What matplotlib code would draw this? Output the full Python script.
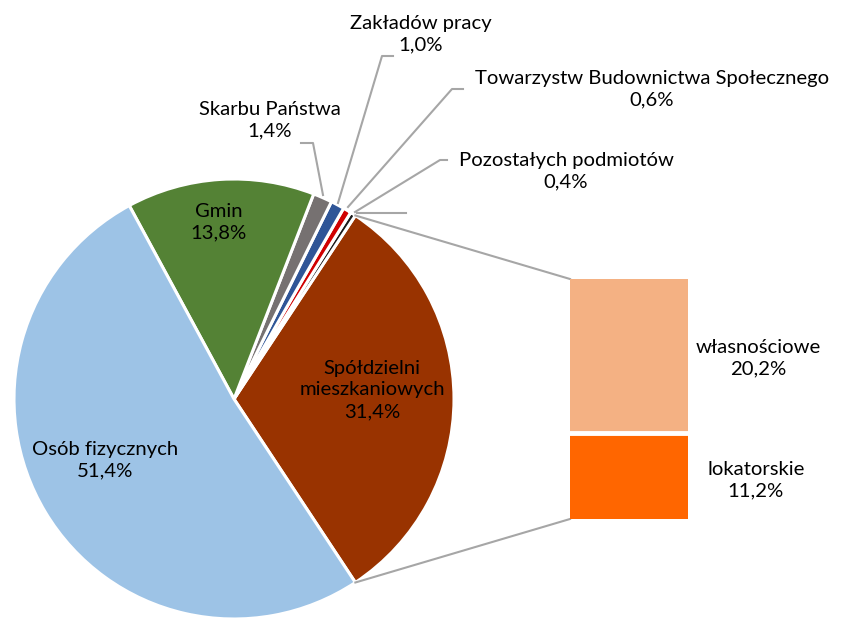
import matplotlib.pyplot as plt
import numpy as np

# ==========================
# DANE
# ==========================

kategorie = ["Spółdzielni\nmieszkaniowych", "Pozostałych podmiotów",
             "Towarzystw Budownictwa Społecznego", "Zakładów pracy",
             "Skarbu Państwa", "Gmin", "Osób fizycznych"]
udzialy = [31.4, 0.4, 0.6, 1.0, 1.4, 13.8, 51.4]
kolory = ["#993300", "#1a1a1a", "#D00000", "#2F5597",
          "#767171", "#548235", "#9DC3E6"]

spoldzielnie = ["lokatorskie", "własnościowe"]
spoldzielnie_udzialy = [11.2, 20.2]
spoldzielnie_kolory = ["#FF6600", "#F4B183"]

W, H = 845, 618


def Y(y):
    # piksele liczone od góry -> współrzędne osi
    return H - y


def etykieta(nazwa, wartosc):
    return f"{nazwa}\n{wartosc:.1f}%".replace(".", ",")


plt.rcParams["font.family"] = ["Lato", "DejaVu Sans"]

fig = plt.figure(figsize=(W / 100, H / 100), dpi=100)
ax = fig.add_axes([0, 0, 1, 1])

# ==========================
# KOŁO
# ==========================

cx, cy, r = 234, 399, 220
suma = sum(udzialy)
start = -udzialy[0] / suma * 360 / 2

ax.pie(
    udzialy,
    colors=kolory,
    startangle=start,
    counterclock=True,
    center=(cx, Y(cy)),
    radius=r,
    wedgeprops=dict(edgecolor="white", linewidth=2.2)
)

ax.set_xlim(0, W)
ax.set_ylim(0, H)
ax.set_aspect("equal")
ax.axis("off")

# ==========================
# SŁUPEK (spółdzielnie)
# ==========================

bx0, bx1, by0, by1 = 570, 688, 279, 519
bax = fig.add_axes([bx0 / W, Y(by1) / H, (bx1 - bx0) / W, (by1 - by0) / H])

dol = 0
for nazwa, wart, kol in zip(spoldzielnie, spoldzielnie_udzialy, spoldzielnie_kolory):
    bax.bar(0, wart, bottom=dol, width=1, color=kol, linewidth=0)
    dol += wart

# biała przerwa między częściami
bax.axhline(spoldzielnie_udzialy[0], color="white", linewidth=3.5)

bax.set_xlim(-0.5, 0.5)
bax.set_ylim(0, sum(spoldzielnie_udzialy))
bax.axis("off")

# linie łączące
kat = np.radians(udzialy[0] / suma * 180)
szary = "#A6A6A6"
ax.plot([cx + r * np.cos(kat), bx0], [Y(cy) + r * np.sin(kat), Y(by0)],
        color=szary, linewidth=1.5)
ax.plot([cx + r * np.cos(kat), bx0], [Y(cy) - r * np.sin(kat), Y(by1)],
        color=szary, linewidth=1.5)
ax.plot([357, 406], [Y(213), Y(213)], color=szary, linewidth=1.5)

# ==========================
# ETYKIETY
# ==========================

styl = dict(ha="center", va="center", fontsize=14.6, linespacing=1.35, color="black")

pozycje = [(372, 390), (566, 171), (652, 89), (421, 34),
           (270, 120), (219, 222), (105, 460)]
for nazwa, wart, (x, y) in zip(kategorie, udzialy, pozycje):
    ax.text(x, Y(y), etykieta(nazwa, wart), **styl)

for nazwa, wart, (x, y) in zip(spoldzielnie, spoldzielnie_udzialy,
                               [(756, 480), (758, 358)]):
    ax.text(x, Y(y), etykieta(nazwa, wart), **styl)

# linie odniesienia
linie = [
    [(323, 195), (313, 143), (301, 143)],
    [(338, 203), (382, 56), (393, 56)],
    [(348, 207), (452, 89), (463, 89)],
    [(355, 212), (440, 160), (447, 160)],
]
for pkt in linie:
    xs = [p[0] for p in pkt]
    ys = [Y(p[1]) for p in pkt]
    ax.plot(xs, ys, color=szary, linewidth=1.5)

plt.savefig("out.png", dpi=100)
